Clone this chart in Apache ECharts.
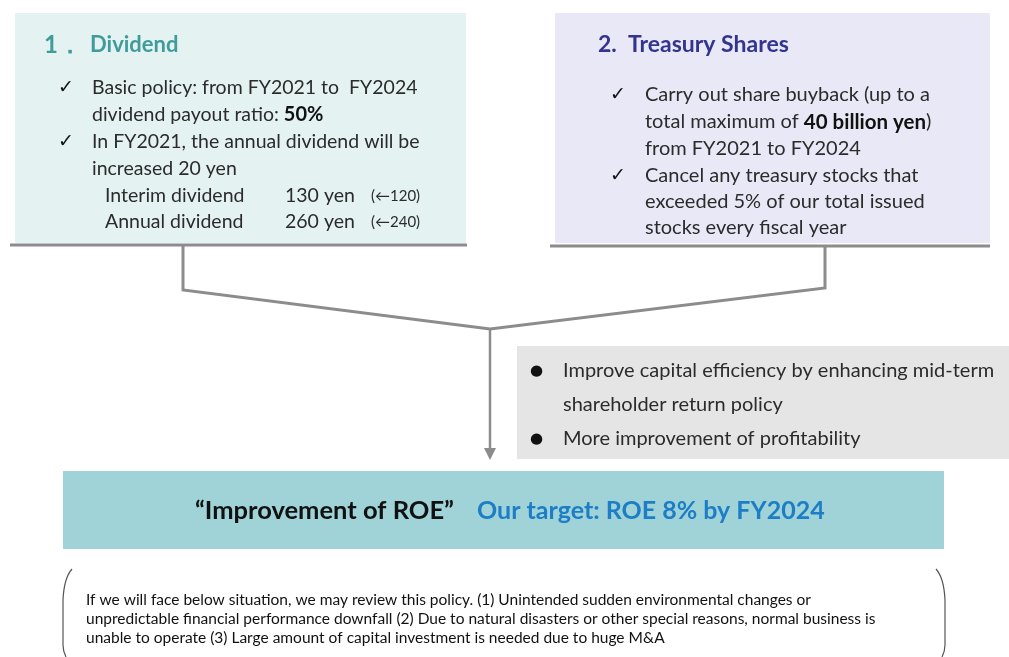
<!DOCTYPE html>
<html>
<head>
<meta charset="utf-8">
<script src="https://cdn.jsdelivr.net/npm/echarts@6/dist/echarts.min.js"></script>
<style>
  html, body { margin: 0; padding: 0; background: #fff; }
  #chart { width: 1009px; height: 657px; }
</style>
</head>
<body>
<div id="chart"></div>
<script>
// texts of the diagram
const dividendTitle = ['1．', 'Dividend']
const dividendChecks = [
  ['Basic policy: from FY2021 to  FY2024', 'dividend payout ratio: {b|50%}'],
  ['In FY2021, the annual dividend will be', 'increased 20 yen']
]
const dividendRows = [
  ['Interim dividend', '130 yen', '(←120)'],
  ['Annual dividend', '260 yen', '(←240)']
]
const treasuryTitle = '2.  Treasury Shares'
const treasuryChecks = [
  ['Carry out share buyback (up to a', 'total maximum of {b|40 billion yen})', 'from FY2021 to FY2024'],
  ['Cancel any treasury stocks that', 'exceeded 5% of our total issued', 'stocks every fiscal year']
]
const effectLines = [
  ['Improve capital efficiency by enhancing mid-term', 'shareholder return policy'],
  ['More improvement of profitability']
]
const roeQuote = '“Improvement of ROE”'
const roeTarget = 'Our target: ROE 8% by FY2024'
const noteLines = [
  'If we will face below situation, we may review this policy. (1) Unintended sudden environmental changes or',
  'unpredictable financial performance downfall (2) Due to natural disasters or other special reasons, normal business is',
  'unable to operate (3) Large amount of capital investment is needed due to huge M&A'
]

const FONT = 'Lato, "Open Sans", sans-serif'
const lineColor = '#8c8c8c'
const textColor = '#2b2b2b'

const chart = echarts.init(document.getElementById('chart'))

function txt(x, y, text, style) {
  return {
    type: 'text',
    x: x,
    y: y,
    style: Object.assign({
      text: text,
      fontFamily: FONT,
      fontSize: 19,
      fill: textColor,
      textVerticalAlign: 'middle'
    }, style || {})
  }
}

const els = []

// box 1 - dividend
els.push({ type: 'rect', shape: { x: 15, y: 13, width: 451, height: 230 }, style: { fill: '#e5f2f2' } })
els.push({ type: 'line', shape: { x1: 10, y1: 245, x2: 467, y2: 245 }, style: { stroke: lineColor, lineWidth: 3 } })
els.push(txt(44, 45, dividendTitle[0], { fontSize: 24, fontWeight: 'bold', fill: '#3f9c9a' }))
els.push(txt(90, 45, dividendTitle[1], { fontSize: 22, fontWeight: 'bold', fill: '#3f9c9a' }))
let y1 = 88
dividendChecks.forEach(function (group) {
  els.push(txt(58, y1, '✓', { fontFamily: 'DejaVu Sans', fontSize: 19, fill: '#111' }))
  group.forEach(function (line) {
    els.push(txt(92, y1, line, { fontSize: 19.5, rich: { b: { fontFamily: FONT, fontSize: 20, fontWeight: 'bold', fill: '#111' } } }))
    y1 += 27
  })
})
y1 = 196
dividendRows.forEach(function (row) {
  els.push(txt(105, y1, row[0], { fontSize: 19.5 }))
  els.push(txt(285, y1, row[1], { fontSize: 19.5 }))
  els.push(txt(371, y1, row[2], { fontSize: 15 }))
  y1 += 26
})

// box 2 - treasury shares
els.push({ type: 'rect', shape: { x: 555, y: 13, width: 435, height: 230 }, style: { fill: '#e8e8f6' } })
els.push({ type: 'line', shape: { x1: 550, y1: 246, x2: 990, y2: 246 }, style: { stroke: lineColor, lineWidth: 3 } })
els.push(txt(598, 45, treasuryTitle, { fontSize: 23, fontWeight: 'bold', fill: '#33348f' }))
let y2 = 95
treasuryChecks.forEach(function (group, gi) {
  els.push(txt(610, y2, '✓', { fontFamily: 'DejaVu Sans', fontSize: 19, fill: '#111' }))
  group.forEach(function (line) {
    els.push(txt(645, y2, line, { fontSize: 20, rich: { b: { fontFamily: FONT, fontSize: 20.5, fontWeight: 'bold', fill: '#111' } } }))
    y2 += gi === 0 ? 27 : 26
  })
})

// connectors
els.push({ type: 'polyline', shape: { points: [[183, 246], [183, 290], [490, 329], [825, 288], [825, 247]] }, style: { stroke: lineColor, lineWidth: 3, fill: null } })
els.push({ type: 'line', shape: { x1: 490, y1: 329, x2: 490, y2: 452 }, style: { stroke: lineColor, lineWidth: 2.5 } })
els.push({ type: 'polygon', shape: { points: [[484, 448], [496, 448], [490, 460]] }, style: { fill: lineColor } })

// grey effect box
els.push({ type: 'rect', shape: { x: 517, y: 346, width: 492, height: 113 }, style: { fill: '#e5e5e5' } })
let y3 = 371
effectLines.forEach(function (group) {
  els.push(txt(530, y3, '●', { fontFamily: 'DejaVu Sans', fontSize: 15, fill: '#111' }))
  group.forEach(function (line) {
    els.push(txt(563, y3, line, { fontSize: 20 }))
    y3 += 34
  })
})

// ROE banner
els.push({ type: 'rect', shape: { x: 63, y: 471, width: 881, height: 78 }, style: { fill: '#9fd3d8' } })
els.push(txt(195, 511, roeQuote, { fontSize: 25.5, fontWeight: 'bold', fill: '#111' }))
els.push(txt(477, 511, roeTarget, { fontSize: 25, fontWeight: 'bold', fill: '#1d7ec6' }))

// note bracket
const bracket = { stroke: '#555', lineWidth: 1.2, fill: null }
els.push({ type: 'bezierCurve', shape: { x1: 72, y1: 569, cpx1: 64, cpy1: 578, x2: 63, y2: 600 }, style: bracket })
els.push({ type: 'line', shape: { x1: 63, y1: 600, x2: 63, y2: 645 }, style: bracket })
els.push({ type: 'bezierCurve', shape: { x1: 63, y1: 645, cpx1: 63, cpy1: 651, x2: 66, y2: 657 }, style: bracket })
els.push({ type: 'bezierCurve', shape: { x1: 936, y1: 569, cpx1: 944, cpy1: 578, x2: 945, y2: 600 }, style: bracket })
els.push({ type: 'line', shape: { x1: 945, y1: 600, x2: 945, y2: 645 }, style: bracket })
els.push({ type: 'bezierCurve', shape: { x1: 945, y1: 645, cpx1: 945, cpy1: 651, x2: 942, y2: 657 }, style: bracket })
noteLines.forEach(function (line, i) {
  els.push(txt(86, 600 + i * 19, line, { fontSize: 15.5, fill: '#111' }))
})

chart.setOption({ animation: false, graphic: { elements: els } })
</script>
</body>
</html>
